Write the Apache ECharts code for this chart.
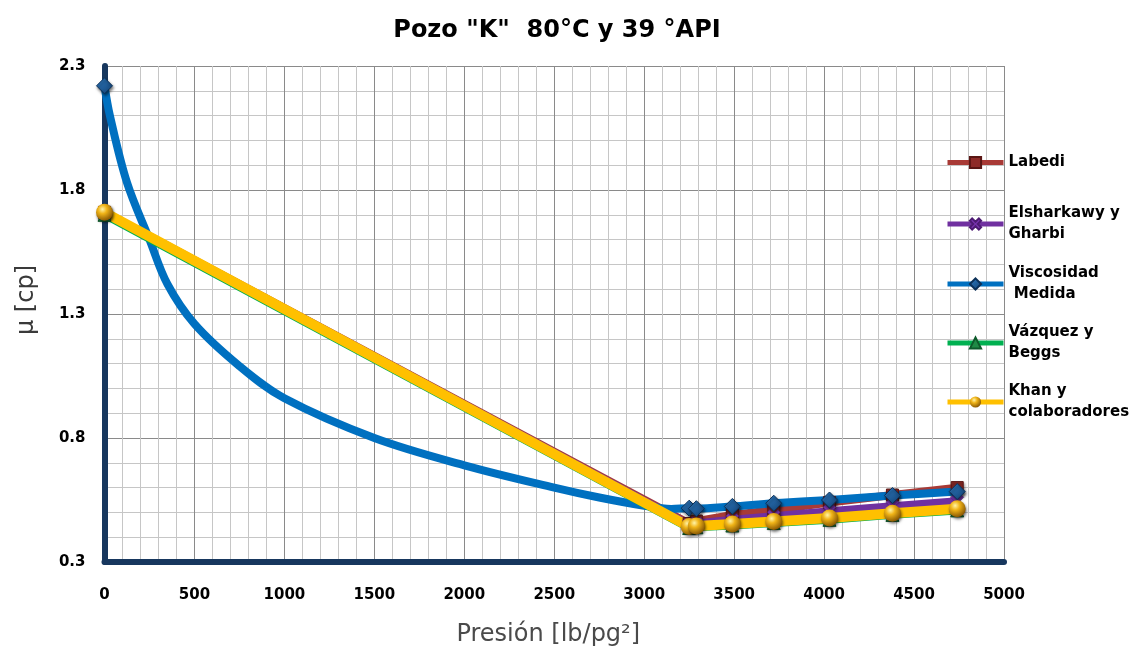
<!DOCTYPE html>
<html>
<head>
<meta charset="utf-8">
<script src="https://cdn.jsdelivr.net/npm/echarts@6/dist/echarts.min.js"></script>
<style>
html,body{margin:0;padding:0;background:#fff;}
#chart{width:1141px;height:652px;}
</style>
</head>
<body>
<div id="chart"></div>
<script>
// ---- Data ----
const titleText = 'Pozo "K"  80°C y 39 °API';
const xAxisName = 'Presión [lb/pg²]';
const yAxisName = 'μ [cp]';
const xTickLabels = [0, 500, 1000, 1500, 2000, 2500, 3000, 3500, 4000, 4500, 5000];
const yTickLabels = [0.3, 0.8, 1.3, 1.8, 2.3];

const pressures  = [0, 3250, 3290, 3490, 3720, 4030, 4380, 4740];
const labedi     = [1.71, 0.455, 0.465, 0.490, 0.510, 0.540, 0.570, 0.600];
const elsharkawy = [1.71, 0.450, 0.455, 0.470, 0.485, 0.505, 0.525, 0.545];
const vazquez    = [1.70, 0.437, 0.440, 0.447, 0.457, 0.470, 0.490, 0.508];
const khan       = [1.71, 0.443, 0.445, 0.453, 0.463, 0.477, 0.497, 0.515];

const measuredPressure = [0, 30, 125, 250, 350, 500, 750, 1000, 1500, 2000, 2500, 2750, 3000, 3150, 3250, 3290, 3490, 3720, 4030, 4380, 4740];
const measuredVisc     = [2.22, 2.10, 1.83, 1.60, 1.42, 1.26, 1.09, 0.96, 0.80, 0.69, 0.60, 0.56, 0.527, 0.514, 0.517, 0.515, 0.524, 0.537, 0.550, 0.568, 0.584];
const measuredHasMarker = [1, 0, 0, 0, 0, 0, 0, 0, 0, 0, 0, 0, 0, 0, 1, 1, 1, 1, 1, 1, 1];

const seriesNames = ['Labedi', 'Elsharkawy y\nGharbi', 'Viscosidad\n Medida', 'Vázquez y\nBeggs', 'Khan y\ncolaboradores'];

// ---- Build ----
const pairs = (xs, ys) => xs.map((x, i) => [x, ys[i]]);
const BOLD = '"DejaVu Sans", "Liberation Sans", Arial, sans-serif';
const shadow = {shadowBlur: 3, shadowColor: 'rgba(0,0,0,0.55)', shadowOffsetX: 1, shadowOffsetY: 2};

const measuredData = measuredPressure.map((x, i) => measuredHasMarker[i]
  ? {value: [x, measuredVisc[i]]}
  : {value: [x, measuredVisc[i]], symbol: 'none'});

const isMajorX = v => Math.abs(v / 500 - Math.round(v / 500)) < 1e-6;
const isMajorY = v => Math.abs((v - 0.3) / 0.5 - Math.round((v - 0.3) / 0.5)) < 1e-6;

const legendText = {fontFamily: BOLD, fontSize: 15, fontWeight: 'bold', color: '#000', lineHeight: 21};
function oneLegend(name, top, shift) {
  return {
    data: [name], left: 945, top: top, orient: 'vertical', padding: 0,
    itemWidth: 56, itemHeight: 14, itemGap: 0,
    lineStyle: {width: 5},
    textStyle: Object.assign({}, legendText, {padding: [shift * 2, 0, 0, 0]}),
    selectedMode: false
  };
}

const chart = echarts.init(document.getElementById('chart'));
chart.setOption({
  animation: false,
  backgroundColor: '#fff',
  title: {
    text: titleText, left: 552, top: 14, textAlign: 'center',
    textStyle: {fontFamily: BOLD, fontSize: 24, fontWeight: 'bold', color: '#000'}
  },
  legend: [
    oneLegend(seriesNames[0], 152, 0),
    oneLegend(seriesNames[1], 191, 12),
    oneLegend(seriesNames[2], 263, 0),
    oneLegend(seriesNames[3], 310, 12),
    oneLegend(seriesNames[4], 368, 13)
  ],
  grid: {left: 104.5, right: 137, top: 66, bottom: 88, containLabel: false},
  xAxis: {
    type: 'value', min: 0, max: 5000, interval: 100,
    name: xAxisName, nameLocation: 'middle', nameGap: 61,
    nameTextStyle: {fontFamily: BOLD, fontSize: 24, color: '#4a4a4a', padding: [0, 12, 0, 0]},
    axisLine: {show: true, onZero: false, lineStyle: {color: '#17375E', width: 6}},
    axisTick: {show: false},
    axisLabel: {
      margin: 26, fontFamily: BOLD, fontSize: 15, fontWeight: 'bold', color: '#000',
      formatter: v => isMajorX(v) && xTickLabels.indexOf(Math.round(v)) >= 0 ? String(Math.round(v)) : ''
    },
    splitLine: {show: true, lineStyle: {width: 1, color: ['#8a8a8a', '#c6c6c6', '#c6c6c6', '#c6c6c6', '#c6c6c6']}}
  },
  yAxis: {
    type: 'value', min: 0.3, max: 2.3, interval: 0.1,
    name: yAxisName, nameLocation: 'middle', nameGap: 66, nameRotate: 90,
    nameTextStyle: {fontFamily: BOLD, fontSize: 24, color: '#3a3a3a', padding: [0, 0, 0, 28]},
    axisLine: {show: true, onZero: false, lineStyle: {color: '#17375E', width: 6}},
    axisTick: {show: false},
    axisLabel: {
      margin: 19, fontFamily: BOLD, fontSize: 15, fontWeight: 'bold', color: '#000',
      formatter: v => isMajorY(v) ? (yTickLabels.find(t => Math.abs(t - v) < 1e-6) || v).toFixed(1) : ''
    },
    splitLine: {show: true, lineStyle: {width: 1, color: ['#8a8a8a', '#c6c6c6', '#c6c6c6', '#c6c6c6', '#c6c6c6']}}
  },
  series: [
    {
      name: seriesNames[0], type: 'line', data: pairs(pressures, labedi),
      symbol: 'rect', symbolSize: 12,
      lineStyle: {color: '#A83A36', width: 8},
      itemStyle: Object.assign({color: '#8E2B28', borderColor: '#5a1614', borderWidth: 1}, shadow)
    },
    {
      name: seriesNames[1], type: 'line', data: pairs(pressures, elsharkawy),
      symbol: 'path://M2,0 L5,3 L8,0 L10,2 L7,5 L10,8 L8,10 L5,7 L2,10 L0,8 L3,5 L0,2 Z', symbolSize: 13,
      lineStyle: {color: '#7030A0', width: 8},
      itemStyle: {color: '#7A35B0', borderColor: '#4d1a73', borderWidth: 0.5}
    },
    {
      name: seriesNames[2], type: 'line', data: measuredData,
      smooth: 0.35,
      symbol: 'diamond', symbolSize: 16,
      lineStyle: {color: '#0070C0', width: 8},
      itemStyle: Object.assign({color: {type: 'linear', x: 0, y: 0, x2: 1, y2: 1, colorStops: [{offset: 0, color: '#2f7fc8'}, {offset: 1, color: '#123e6e'}]}, borderColor: '#0c3058', borderWidth: 1}, shadow)
    },
    {
      name: seriesNames[3], type: 'line', data: pairs(pressures, vazquez),
      symbol: 'triangle', symbolSize: 13,
      lineStyle: {color: '#00B050', width: 8},
      itemStyle: {color: '#1f8a45', borderColor: '#0d5a2a', borderWidth: 1}
    },
    {
      name: seriesNames[4], type: 'line', data: pairs(pressures, khan),
      symbol: 'circle', symbolSize: 17,
      lineStyle: {color: '#FFC000', width: 10},
      itemStyle: Object.assign({color: {type: 'radial', x: 0.38, y: 0.32, r: 0.75, colorStops: [{offset: 0, color: '#fff4a8'}, {offset: 0.35, color: '#f0b418'}, {offset: 1, color: '#7a4a00'}]}, borderWidth: 0}, shadow)
    }
  ]
});
</script>
</body>
</html>
